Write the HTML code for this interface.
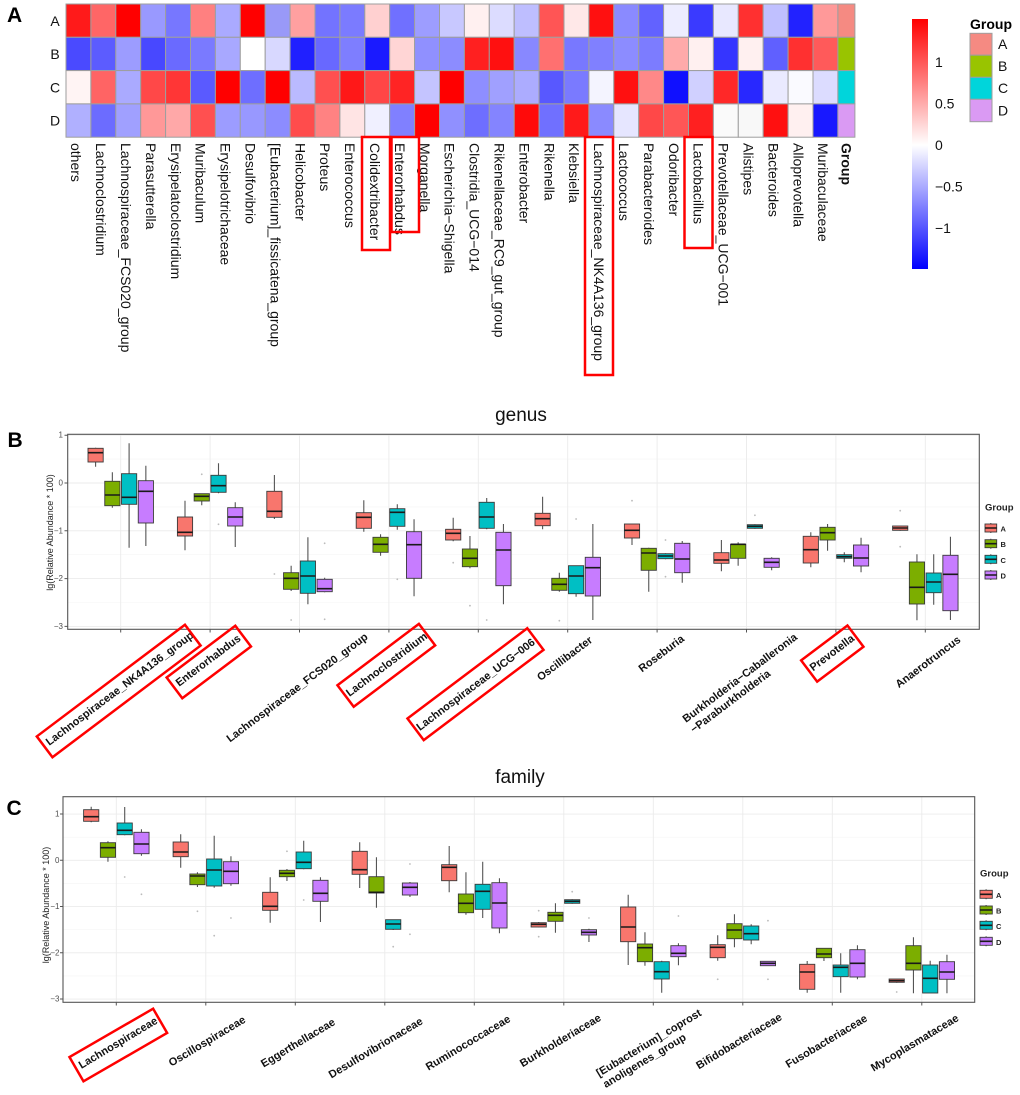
<!DOCTYPE html>
<html><head><meta charset="utf-8"><style>
html,body{margin:0;padding:0;background:#fff}
svg{display:block}
text{font-family:"Liberation Sans",Arial,sans-serif}
.hm rect{stroke:#9E9E9E;stroke-width:1}
.w{stroke:#555;stroke-width:1.1;fill:none}
.m{stroke:#1a1a1a;stroke-width:1.6;fill:none}
.fa{fill:#F8766D;stroke:#3a3a3a;stroke-width:0.9}
.fb{fill:#7CAE00;stroke:#3a3a3a;stroke-width:0.9}
.fc{fill:#00BFC4;stroke:#3a3a3a;stroke-width:0.9}
.fd{fill:#C77CFF;stroke:#3a3a3a;stroke-width:0.9}
.gM{stroke:#EBEBEB;stroke-width:0.9}
.gm{stroke:#F5F5F5;stroke-width:0.6}
.tk{font-size:8px;fill:#4D4D4D}
.lb{font-size:11px;font-weight:bold;fill:#111}
.rb{fill:none;stroke:#FF0000;stroke-width:2.5}
.od{fill:#bbb}
.hl{font-size:14px;fill:#111}
</style></head><body>
<svg width="1020" height="1095" viewBox="0 0 1020 1095" xmlns="http://www.w3.org/2000/svg">
<rect width="1020" height="1095" fill="#fff"/>
<defs>
<linearGradient id="cb" x1="0" y1="0" x2="0" y2="1">
<stop offset="0" stop-color="#FF0000"/>
<stop offset="0.504" stop-color="#FFFFFF"/>
<stop offset="1" stop-color="#0000FF"/>
</linearGradient>
</defs>

<!-- Panel A -->
<text x="7" y="22" font-size="21" font-weight="bold">A</text>
<text x="55" y="21" class="hl" text-anchor="middle" dominant-baseline="central">A</text>
<text x="55" y="54" class="hl" text-anchor="middle" dominant-baseline="central">B</text>
<text x="55" y="87.5" class="hl" text-anchor="middle" dominant-baseline="central">C</text>
<text x="55" y="120.5" class="hl" text-anchor="middle" dominant-baseline="central">D</text>

<g class="hm">
<g transform="translate(0,4)">
<rect x="66" width="24.9" height="33.3" fill="#FF1A1A"/><rect x="90.9" width="24.9" height="33.3" fill="#FF6666"/><rect x="115.8" width="24.9" height="33.3" fill="#FF0000"/><rect x="140.7" width="24.9" height="33.3" fill="#9999FF"/><rect x="165.6" width="24.9" height="33.3" fill="#7777FF"/><rect x="190.5" width="24.9" height="33.3" fill="#FF8080"/><rect x="215.4" width="24.9" height="33.3" fill="#AAAAFF"/><rect x="240.3" width="24.9" height="33.3" fill="#FF0000"/><rect x="265.2" width="24.9" height="33.3" fill="#9999F8"/><rect x="290.1" width="24.9" height="33.3" fill="#FFA0A0"/><rect x="315" width="24.9" height="33.3" fill="#7373FF"/><rect x="339.9" width="24.9" height="33.3" fill="#7B7BFF"/><rect x="364.8" width="24.9" height="33.3" fill="#FFD0D0"/><rect x="389.7" width="24.9" height="33.3" fill="#7070FF"/><rect x="414.6" width="24.9" height="33.3" fill="#9D9DFF"/><rect x="439.5" width="24.9" height="33.3" fill="#C8C8FF"/><rect x="464.4" width="24.9" height="33.3" fill="#FFF0F0"/><rect x="489.3" width="24.9" height="33.3" fill="#DCDCFF"/><rect x="514.2" width="24.9" height="33.3" fill="#BEBEFF"/><rect x="539.1" width="24.9" height="33.3" fill="#FF5555"/><rect x="564" width="24.9" height="33.3" fill="#FFE8E8"/><rect x="588.9" width="24.9" height="33.3" fill="#FF1010"/><rect x="613.8" width="24.9" height="33.3" fill="#8A8AFF"/><rect x="638.7" width="24.9" height="33.3" fill="#6262FF"/><rect x="663.6" width="24.9" height="33.3" fill="#EDEDFF"/><rect x="688.5" width="24.9" height="33.3" fill="#3A3AFF"/><rect x="713.4" width="24.9" height="33.3" fill="#E8E8FF"/><rect x="738.3" width="24.9" height="33.3" fill="#FF3030"/><rect x="763.2" width="24.9" height="33.3" fill="#C0C0FF"/><rect x="788.1" width="24.9" height="33.3" fill="#2222FF"/><rect x="813" width="24.9" height="33.3" fill="#FF9999"/><rect x="837.9" width="17" height="33.3" fill="#F58A82"/>
</g>
<g transform="translate(0,37.3)">
<rect x="66" width="24.9" height="33.3" fill="#4A4AFF"/><rect x="90.9" width="24.9" height="33.3" fill="#5C5CFF"/><rect x="115.8" width="24.9" height="33.3" fill="#9C9CFF"/><rect x="140.7" width="24.9" height="33.3" fill="#4848FF"/><rect x="165.6" width="24.9" height="33.3" fill="#6A6AFF"/><rect x="190.5" width="24.9" height="33.3" fill="#7A7AFF"/><rect x="215.4" width="24.9" height="33.3" fill="#A8A8FF"/><rect x="240.3" width="24.9" height="33.3" fill="#FFFFFF"/><rect x="265.2" width="24.9" height="33.3" fill="#D8D8FF"/><rect x="290.1" width="24.9" height="33.3" fill="#2020FF"/><rect x="315" width="24.9" height="33.3" fill="#6868FF"/><rect x="339.9" width="24.9" height="33.3" fill="#7E7EFF"/><rect x="364.8" width="24.9" height="33.3" fill="#1A1AFF"/><rect x="389.7" width="24.9" height="33.3" fill="#FFD5D5"/><rect x="414.6" width="24.9" height="33.3" fill="#9090FF"/><rect x="439.5" width="24.9" height="33.3" fill="#8C8CFF"/><rect x="464.4" width="24.9" height="33.3" fill="#FF2020"/><rect x="489.3" width="24.9" height="33.3" fill="#FF1010"/><rect x="514.2" width="24.9" height="33.3" fill="#8888FF"/><rect x="539.1" width="24.9" height="33.3" fill="#FF7070"/><rect x="564" width="24.9" height="33.3" fill="#7878FF"/><rect x="588.9" width="24.9" height="33.3" fill="#8080FF"/><rect x="613.8" width="24.9" height="33.3" fill="#8C8CFF"/><rect x="638.7" width="24.9" height="33.3" fill="#7C7CFF"/><rect x="663.6" width="24.9" height="33.3" fill="#FFAAAA"/><rect x="688.5" width="24.9" height="33.3" fill="#FFF0F0"/><rect x="713.4" width="24.9" height="33.3" fill="#3535FF"/><rect x="738.3" width="24.9" height="33.3" fill="#FFF0F0"/><rect x="763.2" width="24.9" height="33.3" fill="#6060FF"/><rect x="788.1" width="24.9" height="33.3" fill="#FF3030"/><rect x="813" width="24.9" height="33.3" fill="#FF5A5A"/><rect x="837.9" width="17" height="33.3" fill="#99C400"/>
</g>
<g transform="translate(0,70.6)">
<rect x="66" width="24.9" height="33.3" fill="#FFF4F4"/><rect x="90.9" width="24.9" height="33.3" fill="#FF6464"/><rect x="115.8" width="24.9" height="33.3" fill="#AAAAFF"/><rect x="140.7" width="24.9" height="33.3" fill="#FF4848"/><rect x="165.6" width="24.9" height="33.3" fill="#FF3636"/><rect x="190.5" width="24.9" height="33.3" fill="#5A5AFF"/><rect x="215.4" width="24.9" height="33.3" fill="#FF0000"/><rect x="240.3" width="24.9" height="33.3" fill="#6E6EFF"/><rect x="265.2" width="24.9" height="33.3" fill="#FF0000"/><rect x="290.1" width="24.9" height="33.3" fill="#BABAFF"/><rect x="315" width="24.9" height="33.3" fill="#FF5050"/><rect x="339.9" width="24.9" height="33.3" fill="#FF1818"/><rect x="364.8" width="24.9" height="33.3" fill="#FF4646"/><rect x="389.7" width="24.9" height="33.3" fill="#FF2424"/><rect x="414.6" width="24.9" height="33.3" fill="#C4C4FF"/><rect x="439.5" width="24.9" height="33.3" fill="#FF0000"/><rect x="464.4" width="24.9" height="33.3" fill="#8E8EFF"/><rect x="489.3" width="24.9" height="33.3" fill="#A0A0FF"/><rect x="514.2" width="24.9" height="33.3" fill="#ACACFF"/><rect x="539.1" width="24.9" height="33.3" fill="#5858FF"/><rect x="564" width="24.9" height="33.3" fill="#7A7AFF"/><rect x="588.9" width="24.9" height="33.3" fill="#F4F4FF"/><rect x="613.8" width="24.9" height="33.3" fill="#FF1010"/><rect x="638.7" width="24.9" height="33.3" fill="#FF8888"/><rect x="663.6" width="24.9" height="33.3" fill="#1010FF"/><rect x="688.5" width="24.9" height="33.3" fill="#D0D0FF"/><rect x="713.4" width="24.9" height="33.3" fill="#FF2828"/><rect x="738.3" width="24.9" height="33.3" fill="#2828FF"/><rect x="763.2" width="24.9" height="33.3" fill="#EAEAFF"/><rect x="788.1" width="24.9" height="33.3" fill="#FAFAFF"/><rect x="813" width="24.9" height="33.3" fill="#DCDCFF"/><rect x="837.9" width="17" height="33.3" fill="#00D5DB"/>
</g>
<g transform="translate(0,103.9)">
<rect x="66" width="24.9" height="33.3" fill="#B0B0FF"/><rect x="90.9" width="24.9" height="33.3" fill="#6C6CFF"/><rect x="115.8" width="24.9" height="33.3" fill="#A0A0FF"/><rect x="140.7" width="24.9" height="33.3" fill="#FF9898"/><rect x="165.6" width="24.9" height="33.3" fill="#FFA8A8"/><rect x="190.5" width="24.9" height="33.3" fill="#FF5050"/><rect x="215.4" width="24.9" height="33.3" fill="#9C9CFF"/><rect x="240.3" width="24.9" height="33.3" fill="#9898FF"/><rect x="265.2" width="24.9" height="33.3" fill="#8C8CFF"/><rect x="290.1" width="24.9" height="33.3" fill="#FF4C4C"/><rect x="315" width="24.9" height="33.3" fill="#FF8282"/><rect x="339.9" width="24.9" height="33.3" fill="#FFE4E4"/><rect x="364.8" width="24.9" height="33.3" fill="#F0F0FF"/><rect x="389.7" width="24.9" height="33.3" fill="#8080FF"/><rect x="414.6" width="24.9" height="33.3" fill="#FF0000"/><rect x="439.5" width="24.9" height="33.3" fill="#9090FF"/><rect x="464.4" width="24.9" height="33.3" fill="#6E6EFF"/><rect x="489.3" width="24.9" height="33.3" fill="#8484FF"/><rect x="514.2" width="24.9" height="33.3" fill="#FF0A0A"/><rect x="539.1" width="24.9" height="33.3" fill="#7070FF"/><rect x="564" width="24.9" height="33.3" fill="#FF1A1A"/><rect x="588.9" width="24.9" height="33.3" fill="#8A8AFF"/><rect x="613.8" width="24.9" height="33.3" fill="#E6E6FF"/><rect x="638.7" width="24.9" height="33.3" fill="#FF4848"/><rect x="663.6" width="24.9" height="33.3" fill="#FF5656"/><rect x="688.5" width="24.9" height="33.3" fill="#FF2020"/><rect x="713.4" width="24.9" height="33.3" fill="#FAFAFA"/><rect x="738.3" width="24.9" height="33.3" fill="#F8F8F8"/><rect x="763.2" width="24.9" height="33.3" fill="#FF1010"/><rect x="788.1" width="24.9" height="33.3" fill="#FFF0F0"/><rect x="813" width="24.9" height="33.3" fill="#1818FF"/><rect x="837.9" width="17" height="33.3" fill="#DA9AF3"/>
</g>
</g>

<!-- heatmap column labels -->
<g class="hl" dominant-baseline="central">
<text transform="translate(76.2,143) rotate(90)">others</text>
<text transform="translate(101.1,143) rotate(90)">Lachnoclostridium</text>
<text transform="translate(126,143) rotate(90)">Lachnospiraceae_FCS020_group</text>
<text transform="translate(150.9,143) rotate(90)">Parasutterella</text>
<text transform="translate(175.8,143) rotate(90)">Erysipelatoclostridium</text>
<text transform="translate(200.7,143) rotate(90)">Muribaculum</text>
<text transform="translate(225.6,143) rotate(90)">Erysipelotrichaceae</text>
<text transform="translate(250.5,143) rotate(90)">Desulfovibrio</text>
<text transform="translate(275.4,143) rotate(90)">[Eubacterium]_fissicatena_group</text>
<text transform="translate(300.3,143) rotate(90)">Helicobacter</text>
<text transform="translate(325.2,143) rotate(90)">Proteus</text>
<text transform="translate(350.1,143) rotate(90)">Enterococcus</text>
<text transform="translate(375,143) rotate(90)">Colidextribacter</text>
<text transform="translate(399.9,143) rotate(90)">Enterorhabdus</text>
<text transform="translate(424.8,143) rotate(90)">Morganella</text>
<text transform="translate(449.7,143) rotate(90)">Escherichia−Shigella</text>
<text transform="translate(474.6,143) rotate(90)">Clostridia_UCG−014</text>
<text transform="translate(499.5,143) rotate(90)">Rikenellaceae_RC9_gut_group</text>
<text transform="translate(524.4,143) rotate(90)">Enterobacter</text>
<text transform="translate(549.3,143) rotate(90)">Rikenella</text>
<text transform="translate(574.2,143) rotate(90)">Klebsiella</text>
<text transform="translate(599.1,143) rotate(90)">Lachnospiraceae_NK4A136_group</text>
<text transform="translate(624,143) rotate(90)">Lactococcus</text>
<text transform="translate(648.9,143) rotate(90)">Parabacteroides</text>
<text transform="translate(673.8,143) rotate(90)">Odoribacter</text>
<text transform="translate(698.7,143) rotate(90)">Lactobacillus</text>
<text transform="translate(723.6,143) rotate(90)">Prevotellaceae_UCG−001</text>
<text transform="translate(748.5,143) rotate(90)">Alistipes</text>
<text transform="translate(773.4,143) rotate(90)">Bacteroides</text>
<text transform="translate(798.3,143) rotate(90)">Alloprevotella</text>
<text transform="translate(823.2,143) rotate(90)">Muribaculaceae</text>
<text transform="translate(846.4,143) rotate(90)" font-weight="bold">Group</text>
</g>
<rect class="rb" x="362" y="137" width="28" height="113"/>
<rect class="rb" x="391.5" y="137" width="27.5" height="95"/>
<rect class="rb" x="585" y="137" width="28" height="238"/>
<rect class="rb" x="684.5" y="137" width="28" height="111"/>

<!-- colorbar -->
<rect x="912" y="19" width="16" height="250" fill="url(#cb)"/>
<g class="hl" dominant-baseline="central">
<text x="935" y="62">1</text>
<text x="935" y="103.5">0.5</text>
<text x="935" y="145">0</text>
<text x="935" y="186.5">−0.5</text>
<text x="935" y="228">−1</text>
</g>
<text x="970" y="29" font-size="14" font-weight="bold">Group</text>
<g stroke="#9E9E9E" stroke-width="1">
<rect x="970" y="33.3" width="22" height="21.9" fill="#F58A82"/>
<rect x="970" y="55.2" width="22" height="22.1" fill="#99C400"/>
<rect x="970" y="77.3" width="22" height="22" fill="#00D5DB"/>
<rect x="970" y="99.3" width="22" height="22.4" fill="#DA9AF3"/>
</g>
<g class="hl" dominant-baseline="central">
<text x="998" y="44">A</text><text x="998" y="66">B</text><text x="998" y="88">C</text><text x="998" y="110.5">D</text>
</g>

<!-- Panel B -->
<text x="7.5" y="447" font-size="21" font-weight="bold">B</text>
<text x="521" y="421" font-size="19" text-anchor="middle" fill="#111">genus</text>
<g>
<line class="gm" x1="67.7" x2="979.3" y1="459.1" y2="459.1"/>
<line class="gm" x1="67.7" x2="979.3" y1="506.9" y2="506.9"/>
<line class="gm" x1="67.7" x2="979.3" y1="554.7" y2="554.7"/>
<line class="gm" x1="67.7" x2="979.3" y1="602.5" y2="602.5"/>
<line class="gM" x1="67.7" x2="979.3" y1="435.2" y2="435.2"/>
<line class="gM" x1="67.7" x2="979.3" y1="483" y2="483"/>
<line class="gM" x1="67.7" x2="979.3" y1="530.8" y2="530.8"/>
<line class="gM" x1="67.7" x2="979.3" y1="578.6" y2="578.6"/>
<line class="gM" x1="67.7" x2="979.3" y1="626.4" y2="626.4"/>
<path class="gM" d="M120.7 434.3V629.3M210.1 434.3V629.3M299.5 434.3V629.3M388.9 434.3V629.3M478.3 434.3V629.3M567.7 434.3V629.3M657.1 434.3V629.3M746.5 434.3V629.3M835.9 434.3V629.3M925.3 434.3V629.3"/>
</g>
<g class="tk" text-anchor="end" dominant-baseline="central">
<text x="63" y="435.2">1</text><text x="63" y="483">0</text><text x="63" y="530.8">−1</text><text x="63" y="578.6">−2</text><text x="63" y="626.4">−3</text>
</g>
<path d="M64.5 435.2H67.7M64.5 483H67.7M64.5 530.8H67.7M64.5 578.6H67.7M64.5 626.4H67.7M120.7 629.3V632.5M210.1 629.3V632.5M299.5 629.3V632.5M388.9 629.3V632.5M478.3 629.3V632.5M567.7 629.3V632.5M657.1 629.3V632.5M746.5 629.3V632.5M835.9 629.3V632.5M925.3 629.3V632.5" stroke="#555" stroke-width="1"/>
<text transform="translate(50,532.5) rotate(-90)" font-size="9" text-anchor="middle" dominant-baseline="central" fill="#222">lg(Relative Abundance * 100)</text>

<!-- B boxes -->
<g transform="translate(120.7,0)">
<path class="w" d="M-25.1 447.7V466.7M-8.35 472.3V507.7M8.4 443.3V547.7M25.15 465.7V546"/>
<rect class="fa" x="-32.7" y="448.3" width="15.2" height="13.7"/><rect class="fb" x="-15.95" y="481.3" width="15.2" height="24.4"/><rect class="fc" x="0.8" y="473.7" width="15.2" height="30.6"/><rect class="fd" x="17.55" y="480.7" width="15.2" height="42.3"/>
<path class="m" d="M-32.7 452.7h15.2M-15.95 495h15.2M0.8 497.3h15.2M17.55 491.3h15.2"/>
</g>
<g transform="translate(210.1,0)">
<path class="w" d="M-25.1 500.7V550.3M-8.35 493.7V505.3M8.4 463.3V493.3M25.15 502.3V547"/>
<rect class="fa" x="-32.7" y="517" width="15.2" height="19"/><rect class="fb" x="-15.95" y="493.7" width="15.2" height="7.3"/><rect class="fc" x="0.8" y="475.3" width="15.2" height="17"/><rect class="fd" x="17.55" y="507.7" width="15.2" height="18.3"/>
<path class="m" d="M-32.7 532.3h15.2M-15.95 496.3h15.2M0.8 485.7h15.2M17.55 517h15.2"/>
<circle class="od" cx="-8.35" cy="474.3" r="0.9"/><circle class="od" cx="8.4" cy="524.3" r="0.9"/>
</g>
<g transform="translate(299.5,0)">
<path class="w" d="M-25.1 475V519M-8.35 565.7V591M8.4 537.3V604.3M25.15 577.7V592.3"/>
<rect class="fa" x="-32.7" y="491.3" width="15.2" height="26"/><rect class="fb" x="-15.95" y="572.7" width="15.2" height="16.6"/><rect class="fc" x="0.8" y="561" width="15.2" height="32.3"/><rect class="fd" x="17.55" y="579.3" width="15.2" height="12.4"/>
<path class="m" d="M-32.7 511.3h15.2M-15.95 578.3h15.2M0.8 576h15.2M17.55 588.7h15.2"/>
<circle class="od" cx="-25.1" cy="574" r="0.9"/><circle class="od" cx="-8.35" cy="620" r="0.9"/><circle class="od" cx="25.15" cy="543.3" r="0.9"/><circle class="od" cx="25.15" cy="619.3" r="0.9"/>
</g>
<g transform="translate(388.9,0)">
<path class="w" d="M-25.1 500.3V531.7M-8.35 534.3V555.7M8.4 504.3V529.7M25.15 519.3V596.3"/>
<rect class="fa" x="-32.7" y="512.7" width="15.2" height="15.6"/><rect class="fb" x="-15.95" y="537.3" width="15.2" height="15"/><rect class="fc" x="0.8" y="508.7" width="15.2" height="17.6"/><rect class="fd" x="17.55" y="531.7" width="15.2" height="46.6"/>
<path class="m" d="M-32.7 517.3h15.2M-15.95 544.3h15.2M0.8 512.3h15.2M17.55 544.7h15.2"/>
<circle class="od" cx="8.4" cy="579.3" r="0.9"/>
</g>
<g transform="translate(478.3,0)">
<path class="w" d="M-25.1 517.7V541.3M-8.35 536V568.3M8.4 498V529.3M25.15 524V604.3"/>
<rect class="fa" x="-32.7" y="529.3" width="15.2" height="10.7"/><rect class="fb" x="-15.95" y="549" width="15.2" height="17.7"/><rect class="fc" x="0.8" y="502.3" width="15.2" height="26"/><rect class="fd" x="17.55" y="532.3" width="15.2" height="53.4"/>
<path class="m" d="M-32.7 533.3h15.2M-15.95 558.3h15.2M0.8 517h15.2M17.55 550h15.2"/>
<circle class="od" cx="-25.1" cy="562.7" r="0.9"/><circle class="od" cx="-8.35" cy="605.7" r="0.9"/><circle class="od" cx="8.4" cy="620" r="0.9"/>
</g>
<g transform="translate(567.7,0)">
<path class="w" d="M-25.1 496.7V529.3M-8.35 572.7V591.7M8.4 565.7V596.7M25.15 524V620"/>
<rect class="fa" x="-32.7" y="513.3" width="15.2" height="12.4"/><rect class="fb" x="-15.95" y="578.3" width="15.2" height="12"/><rect class="fc" x="0.8" y="565.7" width="15.2" height="28"/><rect class="fd" x="17.55" y="557.3" width="15.2" height="38.7"/>
<path class="m" d="M-32.7 518.7h15.2M-15.95 584.3h15.2M0.8 576h15.2M17.55 567.7h15.2"/>
<circle class="od" cx="-8.35" cy="620.7" r="0.9"/><circle class="od" cx="8.4" cy="519" r="0.9"/>
</g>
<g transform="translate(657.1,0)">
<path class="w" d="M-25.1 524V545M-8.35 547.7V591.7M8.4 553.3V559.3M25.15 541V582.7"/>
<rect class="fa" x="-32.7" y="524" width="15.2" height="14"/><rect class="fb" x="-15.95" y="548.3" width="15.2" height="22"/><rect class="fc" x="0.8" y="553.7" width="15.2" height="5"/><rect class="fd" x="17.55" y="543.3" width="15.2" height="29.4"/>
<path class="m" d="M-32.7 530.3h15.2M-15.95 553h15.2M0.8 556h15.2M17.55 559h15.2"/>
<circle class="od" cx="-25.1" cy="500.7" r="0.9"/><circle class="od" cx="8.4" cy="540" r="0.9"/><circle class="od" cx="8.4" cy="576.7" r="0.9"/>
</g>
<g transform="translate(746.5,0)">
<path class="w" d="M-25.1 540V571.3M-8.35 542.3V565.7M8.4 524.3V528.7M25.15 557.3V570.3"/>
<rect class="fa" x="-32.7" y="552.7" width="15.2" height="10.6"/><rect class="fb" x="-15.95" y="544.3" width="15.2" height="14"/><rect class="fc" x="0.8" y="524.7" width="15.2" height="3.6"/><rect class="fd" x="17.55" y="558.3" width="15.2" height="9"/>
<path class="m" d="M-32.7 560h15.2M-15.95 544.3h15.2M0.8 526.3h15.2M17.55 562.3h15.2"/>
<circle class="od" cx="8.4" cy="515.3" r="0.9"/>
</g>
<g transform="translate(835.9,0)">
<path class="w" d="M-25.1 532.3V567.3M-8.35 524V550.7M8.4 552.3V562.3M25.15 537.7V572.3"/>
<rect class="fa" x="-32.7" y="536.3" width="15.2" height="26.7"/><rect class="fb" x="-15.95" y="527.3" width="15.2" height="12.7"/><rect class="fc" x="0.8" y="554.7" width="15.2" height="3.6"/><rect class="fd" x="17.55" y="545" width="15.2" height="21"/>
<path class="m" d="M-32.7 549.7h15.2M-15.95 532.7h15.2M0.8 556.7h15.2M17.55 558h15.2"/>
</g>
<g transform="translate(925.3,0)">
<path class="w" d="M-25.1 526V530.7M-8.35 554.3V620.3M8.4 554.3V604.7M25.15 536.7V620"/>
<rect class="fa" x="-32.7" y="526" width="15.2" height="4.3"/><rect class="fb" x="-15.95" y="562" width="15.2" height="42"/><rect class="fc" x="0.8" y="573" width="15.2" height="19.7"/><rect class="fd" x="17.55" y="555.3" width="15.2" height="55.4"/>
<path class="m" d="M-32.7 528h15.2M-15.95 587.3h15.2M0.8 582h15.2M17.55 574.3h15.2"/>
<circle class="od" cx="-25.1" cy="510.7" r="0.9"/><circle class="od" cx="-25.1" cy="546.7" r="0.9"/>
</g>
<rect x="67.7" y="434.3" width="911.6" height="195" fill="none" stroke="#555" stroke-width="1.1"/>

<!-- B legend -->
<text x="985" y="510.5" font-size="9.5" font-weight="bold" fill="#222">Group</text>
<g>
<path class="w" d="M990.8 523V533M990.8 538.7V548.7M990.8 554.3V564.3M990.8 570V580"/>
<rect class="fa" x="985" y="524" width="11.7" height="8"/><rect class="fb" x="985" y="539.7" width="11.7" height="8"/><rect class="fc" x="985" y="555.3" width="11.7" height="8"/><rect class="fd" x="985" y="571" width="11.7" height="8"/>
<path class="m" d="M985 528h11.7M985 543.7h11.7M985 559.3h11.7M985 575h11.7" stroke-width="1.2"/>
</g>
<g font-size="7.5" font-weight="bold" fill="#222" dominant-baseline="central">
<text x="1000.5" y="529">A</text><text x="1000.5" y="544.7">B</text><text x="1000.5" y="560.3">C</text><text x="1000.5" y="576">D</text>
</g>

<!-- B x labels -->
<g class="lb" text-anchor="middle" dominant-baseline="central">
<text transform="translate(120,689) rotate(-37)">Lachnospiraceae_NK4A136_group</text>
<text transform="translate(208.5,661) rotate(-37)">Enterorhabdus</text>
<text transform="translate(297.5,688) rotate(-37)">Lachnospiraceae_FCS020_group</text>
<text transform="translate(387,665) rotate(-37)">Lachnoclostridium</text>
<text transform="translate(476,685) rotate(-37)">Lachnospiraceae_UCG−006</text>
<text transform="translate(565,659) rotate(-37)">Oscillibacter</text>
<text transform="translate(661.7,654) rotate(-37)">Roseburia</text>
<text transform="translate(832.3,653.3) rotate(-37)">Prevotella</text>
<text transform="translate(928.3,662.3) rotate(-37)">Anaerotruncus</text>
</g>
<text class="lb" transform="translate(686,723) rotate(-37)"><tspan x="0" y="0">Burkholderia−Caballeronia</tspan><tspan x="0" y="13">−Paraburkholderia</tspan></text>
<g class="rb">
<rect x="-92.75" y="-13" width="185.5" height="26" transform="translate(118.7,691) rotate(-37)"/>
<rect x="-43" y="-13" width="86" height="26" transform="translate(208.8,662) rotate(-37)"/>
<rect x="-51" y="-13.5" width="102" height="27" transform="translate(386.3,665.3) rotate(-37)"/>
<rect x="-75" y="-13.5" width="150" height="27" transform="translate(475.5,684.2) rotate(-37)"/>
<rect x="-29" y="-13.3" width="58" height="26.6" transform="translate(832.3,653.6) rotate(-37)"/>
</g>

<!-- Panel C -->
<text x="6.5" y="815" font-size="21" font-weight="bold">C</text>
<text x="520" y="783" font-size="19" text-anchor="middle" fill="#111">family</text>
<g>
<line class="gm" x1="63" x2="974.7" y1="837.2" y2="837.2"/>
<line class="gm" x1="63" x2="974.7" y1="883.4" y2="883.4"/>
<line class="gm" x1="63" x2="974.7" y1="929.7" y2="929.7"/>
<line class="gm" x1="63" x2="974.7" y1="975.9" y2="975.9"/>
<line class="gM" x1="63" x2="974.7" y1="814.05" y2="814.05"/>
<line class="gM" x1="63" x2="974.7" y1="860.3" y2="860.3"/>
<line class="gM" x1="63" x2="974.7" y1="906.55" y2="906.55"/>
<line class="gM" x1="63" x2="974.7" y1="952.8" y2="952.8"/>
<line class="gM" x1="63" x2="974.7" y1="999.05" y2="999.05"/>
<path class="gM" d="M116.3 796.7V1002.3M205.8 796.7V1002.3M295.3 796.7V1002.3M384.8 796.7V1002.3M474.3 796.7V1002.3M563.8 796.7V1002.3M653.3 796.7V1002.3M742.8 796.7V1002.3M832.3 796.7V1002.3M921.8 796.7V1002.3"/>
</g>
<g class="tk" text-anchor="end" dominant-baseline="central">
<text x="59.5" y="814.05">1</text><text x="59.5" y="860.3">0</text><text x="59.5" y="906.55">−1</text><text x="59.5" y="952.8">−2</text><text x="59.5" y="999.05">−3</text>
</g>
<path d="M60 814.05H63M60 860.3H63M60 906.55H63M60 952.8H63M60 999.05H63M116.3 1002.3V1005.5M205.8 1002.3V1005.5M295.3 1002.3V1005.5M384.8 1002.3V1005.5M474.3 1002.3V1005.5M563.8 1002.3V1005.5M653.3 1002.3V1005.5M742.8 1002.3V1005.5M832.3 1002.3V1005.5M921.8 1002.3V1005.5" stroke="#555" stroke-width="1"/>
<text transform="translate(46,905) rotate(-90)" font-size="9" text-anchor="middle" dominant-baseline="central" fill="#222">lg(Relative Abundance * 100)</text>

<!-- C boxes -->
<g transform="translate(116.3,0)">
<path class="w" d="M-25.1 806.7V822.3M-8.35 841.3V861.7M8.4 807V835.3M25.15 829.3V855.7"/>
<rect class="fa" x="-32.7" y="809.7" width="15.2" height="11.6"/><rect class="fb" x="-15.95" y="842.7" width="15.2" height="14.6"/><rect class="fc" x="0.8" y="823" width="15.2" height="11.7"/><rect class="fd" x="17.55" y="832.3" width="15.2" height="21.4"/>
<path class="m" d="M-32.7 816.7h15.2M-15.95 847.7h15.2M0.8 830.3h15.2M17.55 844h15.2"/>
<circle class="od" cx="8.4" cy="877" r="0.9"/><circle class="od" cx="25.15" cy="894.3" r="0.9"/>
</g>
<g transform="translate(205.8,0)">
<path class="w" d="M-25.1 834.3V867.7M-8.35 872.3V887M8.4 835.7V887.7M25.15 856.3V885.7"/>
<rect class="fa" x="-32.7" y="842" width="15.2" height="14.7"/><rect class="fb" x="-15.95" y="874" width="15.2" height="10.7"/><rect class="fc" x="0.8" y="859" width="15.2" height="27"/><rect class="fd" x="17.55" y="861.7" width="15.2" height="22"/>
<path class="m" d="M-32.7 852h15.2M-15.95 876h15.2M0.8 870h15.2M17.55 871.3h15.2"/>
<circle class="od" cx="-8.35" cy="911.3" r="0.9"/><circle class="od" cx="8.4" cy="935.7" r="0.9"/><circle class="od" cx="25.15" cy="918" r="0.9"/>
</g>
<g transform="translate(295.3,0)">
<path class="w" d="M-25.1 877.3V922.7M-8.35 869V881M8.4 840.7V869.3M25.15 877.3V922"/>
<rect class="fa" x="-32.7" y="892.3" width="15.2" height="18"/><rect class="fb" x="-15.95" y="870.3" width="15.2" height="6.4"/><rect class="fc" x="0.8" y="852" width="15.2" height="16.7"/><rect class="fd" x="17.55" y="880.3" width="15.2" height="21"/>
<path class="m" d="M-32.7 906.3h15.2M-15.95 873.3h15.2M0.8 862.3h15.2M17.55 893.3h15.2"/>
<circle class="od" cx="-8.35" cy="851.3" r="0.9"/><circle class="od" cx="8.4" cy="900" r="0.9"/>
</g>
<g transform="translate(384.8,0)">
<path class="w" d="M-25.1 842.3V888M-8.35 857.3V907.7M8.4 919.7V930M25.15 882V897"/>
<rect class="fa" x="-32.7" y="851.3" width="15.2" height="23"/><rect class="fb" x="-15.95" y="876.7" width="15.2" height="16.3"/><rect class="fc" x="0.8" y="919.7" width="15.2" height="9.6"/><rect class="fd" x="17.55" y="883" width="15.2" height="12"/>
<path class="m" d="M-32.7 869.7h15.2M-15.95 892.3h15.2M0.8 924h15.2M17.55 887.3h15.2"/>
<circle class="od" cx="8.4" cy="946.7" r="0.9"/><circle class="od" cx="25.15" cy="864" r="0.9"/><circle class="od" cx="25.15" cy="934.3" r="0.9"/>
</g>
<g transform="translate(474.3,0)">
<path class="w" d="M-25.1 846V892.3M-8.35 872.3V914.7M8.4 861.7V918M25.15 878.3V933.3"/>
<rect class="fa" x="-32.7" y="864.7" width="15.2" height="16"/><rect class="fb" x="-15.95" y="894" width="15.2" height="18.7"/><rect class="fc" x="0.8" y="884.3" width="15.2" height="25"/><rect class="fd" x="17.55" y="882.7" width="15.2" height="45.3"/>
<path class="m" d="M-32.7 867.3h15.2M-15.95 903.3h15.2M0.8 891.3h15.2M17.55 903h15.2"/>
</g>
<g transform="translate(563.8,0)">
<path class="w" d="M-25.1 922V927.3M-8.35 903.3V932.7M8.4 899.3V903.7M25.15 928.7V942"/>
<rect class="fa" x="-32.7" y="922.7" width="15.2" height="4.3"/><rect class="fb" x="-15.95" y="912.3" width="15.2" height="9"/><rect class="fc" x="0.8" y="899.7" width="15.2" height="3.6"/><rect class="fd" x="17.55" y="929.7" width="15.2" height="5.3"/>
<path class="m" d="M-32.7 924.3h15.2M-15.95 915.3h15.2M0.8 901.3h15.2M17.55 932.3h15.2"/>
<circle class="od" cx="-25.1" cy="910.7" r="0.9"/><circle class="od" cx="-25.1" cy="936.7" r="0.9"/><circle class="od" cx="8.4" cy="891.7" r="0.9"/><circle class="od" cx="25.15" cy="918" r="0.9"/>
</g>
<g transform="translate(653.3,0)">
<path class="w" d="M-25.1 894.7V965M-8.35 932.3V965.7M8.4 960.7V992.7M25.15 943.3V965.3"/>
<rect class="fa" x="-32.7" y="907" width="15.2" height="34.7"/><rect class="fb" x="-15.95" y="944" width="15.2" height="17.7"/><rect class="fc" x="0.8" y="961.7" width="15.2" height="17.3"/><rect class="fd" x="17.55" y="945.7" width="15.2" height="11"/>
<path class="m" d="M-32.7 927h15.2M-15.95 947.7h15.2M0.8 971.7h15.2M17.55 953.3h15.2"/>
<circle class="od" cx="25.15" cy="916" r="0.9"/>
</g>
<g transform="translate(742.8,0)">
<path class="w" d="M-25.1 935.3V960.7M-8.35 914.3V947.3M8.4 924.3V944.3M25.15 961V966"/>
<rect class="fa" x="-32.7" y="944.7" width="15.2" height="13"/><rect class="fb" x="-15.95" y="923.7" width="15.2" height="15"/><rect class="fc" x="0.8" y="926" width="15.2" height="14"/><rect class="fd" x="17.55" y="961.3" width="15.2" height="4.4"/>
<path class="m" d="M-32.7 947.3h15.2M-15.95 930h15.2M0.8 933.7h15.2M17.55 963.3h15.2"/>
<circle class="od" cx="-25.1" cy="979.3" r="0.9"/><circle class="od" cx="25.15" cy="920.7" r="0.9"/><circle class="od" cx="25.15" cy="979.3" r="0.9"/>
</g>
<g transform="translate(832.3,0)">
<path class="w" d="M-25.1 961V992.7M-8.35 948V961M8.4 953.3V992.7M25.15 945.3V979.3"/>
<rect class="fa" x="-32.7" y="964.3" width="15.2" height="25"/><rect class="fb" x="-15.95" y="948.3" width="15.2" height="9.4"/><rect class="fc" x="0.8" y="965" width="15.2" height="11.7"/><rect class="fd" x="17.55" y="949.7" width="15.2" height="27.3"/>
<path class="m" d="M-32.7 972h15.2M-15.95 954h15.2M0.8 967.3h15.2M17.55 963.3h15.2"/>
</g>
<g transform="translate(921.8,0)">
<path class="w" d="M-25.1 979V982.7M-8.35 937.3V993.3M8.4 960.7V993M25.15 954.7V993.3"/>
<rect class="fa" x="-32.7" y="979" width="15.2" height="3.3"/><rect class="fb" x="-15.95" y="945.7" width="15.2" height="24.3"/><rect class="fc" x="0.8" y="965" width="15.2" height="28"/><rect class="fd" x="17.55" y="961.7" width="15.2" height="17.6"/>
<path class="m" d="M-32.7 980.7h15.2M-15.95 963.3h15.2M0.8 978.3h15.2M17.55 972h15.2"/>
<circle class="od" cx="-25.1" cy="992" r="0.9"/>
</g>
<rect x="63" y="796.7" width="911.7" height="205.6" fill="none" stroke="#555" stroke-width="1.1"/>

<!-- C legend -->
<text x="980" y="876.5" font-size="9.5" font-weight="bold" fill="#222">Group</text>
<g>
<path class="w" d="M986.1 889.3V899.3M986.1 905V915M986.1 920.3V930.3M986.1 936.3V946.3"/>
<rect class="fa" x="980" y="890.3" width="12.3" height="8"/><rect class="fb" x="980" y="906" width="12.3" height="8"/><rect class="fc" x="980" y="921.3" width="12.3" height="8"/><rect class="fd" x="980" y="937.3" width="12.3" height="8"/>
<path class="m" d="M980 894.3h12.3M980 910h12.3M980 925.3h12.3M980 941.3h12.3" stroke-width="1.2"/>
</g>
<g font-size="7.5" font-weight="bold" fill="#222" dominant-baseline="central">
<text x="996" y="895.3">A</text><text x="996" y="911">B</text><text x="996" y="926.3">C</text><text x="996" y="942.3">D</text>
</g>

<!-- C x labels -->
<g class="lb" text-anchor="middle" dominant-baseline="central">
<text transform="translate(118.3,1043.3) rotate(-31)">Lachnospiraceae</text>
<text transform="translate(207.3,1041.7) rotate(-31)">Oscillospiraceae</text>
<text transform="translate(298.3,1043.3) rotate(-31)">Eggerthellaceae</text>
<text transform="translate(376,1048.3) rotate(-31)">Desulfovibrionaceae</text>
<text transform="translate(468.3,1043.3) rotate(-31)">Ruminococcaceae</text>
<text transform="translate(560.7,1041) rotate(-31)">Burkholderiaceae</text>
<text transform="translate(739.3,1041.7) rotate(-31)">Bifidobacteriaceae</text>
<text transform="translate(826.7,1041.7) rotate(-31)">Fusobacteriaceae</text>
<text transform="translate(915,1043.3) rotate(-31)">Mycoplasmataceae</text>
</g>
<text class="lb" transform="translate(599,1077) rotate(-31)"><tspan x="0" y="0">[Eubacterium]_coprost</tspan><tspan x="0" y="13">anoligenes_group</tspan></text>
<rect class="rb" x="-48.3" y="-14" width="96.6" height="28" transform="translate(118.3,1045) rotate(-30)"/>
</svg>
</body></html>
